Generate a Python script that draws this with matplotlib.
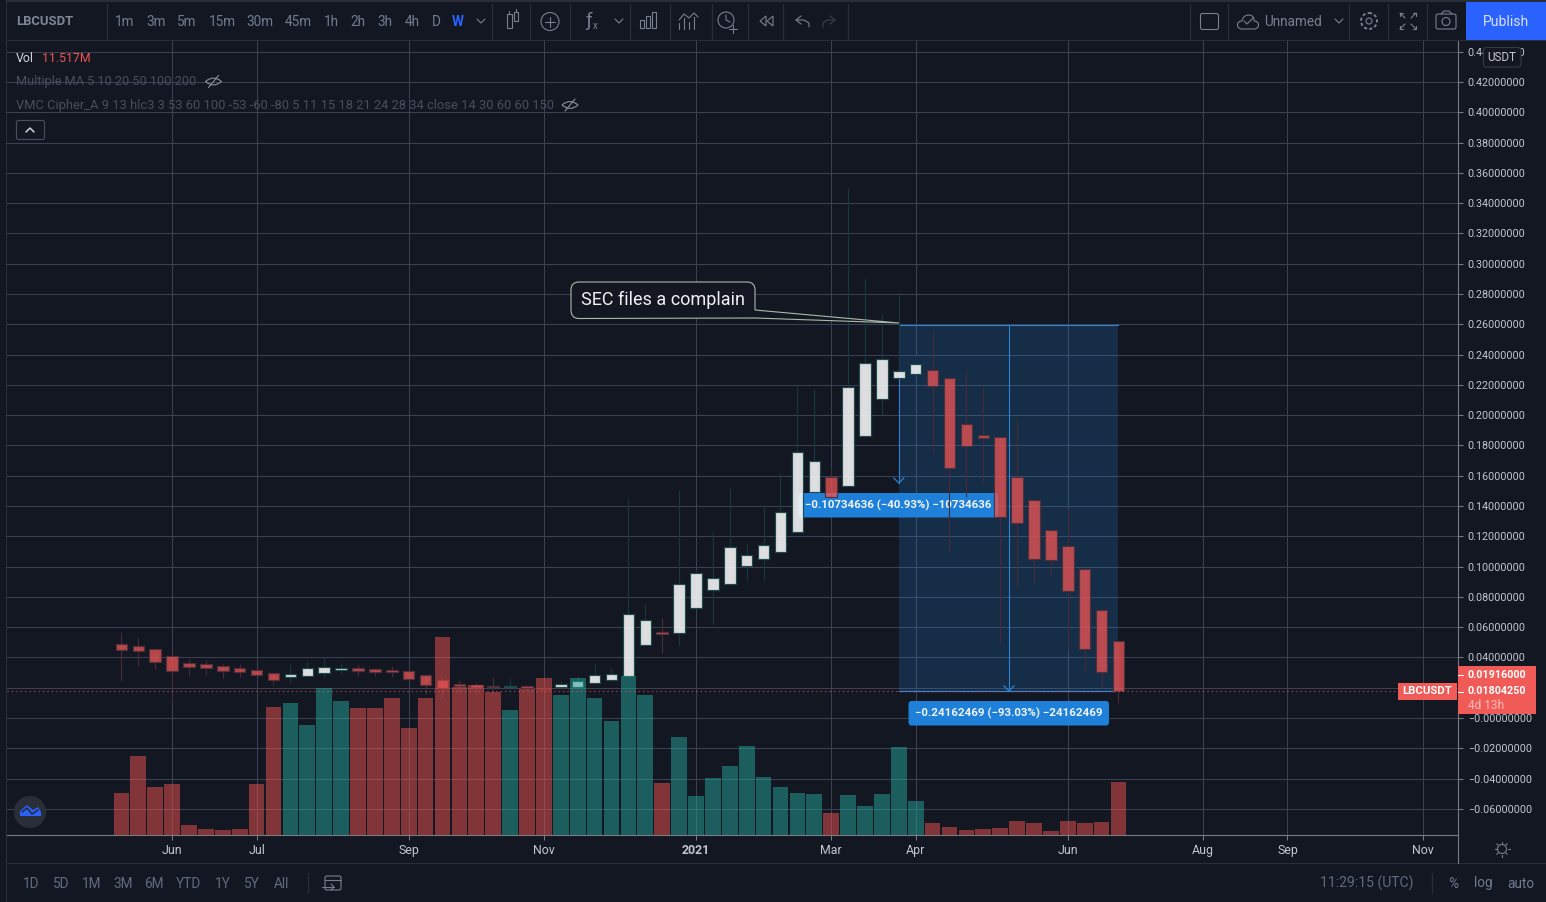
import matplotlib
matplotlib.use("Agg")
import matplotlib.pyplot as plt
from matplotlib.patches import FancyBboxPatch, Rectangle, Circle, Polygon, PathPatch
from matplotlib.path import Path
from matplotlib.lines import Line2D
from matplotlib.transforms import Affine2D

plt.rcParams['font.family'] = ['Roboto', 'DejaVu Sans']

opens = [.0491,.0473,.0458,.0411,.0361,.0355,.0341,.0328,.0315,.0295,
         .0273,.0279,.0299,.0319,.0328,.0322,.0317,.0308,.0282,.0249,
         .0225,.0220,.0211,.0205,.0209,.0200,.0203,.0207,.0229,.0253,
         .0277,.0480,.0568,.0559,.0724,.0843,.0883,.1004,.1050,.1096,
         .1226,.1494,.1594,.1532,.1860,.2105,.2245,.2270,.2300,.2247,
         .1943,.1871,.1858,.1594,.1442,.1243,.1138,.0986,.0715,.0510]
closes = [.0451,.0444,.0368,.0308,.0339,.0332,.0308,.0302,.0282,.0249,
          .0289,.0328,.0335,.0330,.0312,.0306,.0306,.0256,.0216,.0200,
          .0211,.0203,.0205,.0211,.0196,.0191,.0223,.0242,.0282,.0289,
          .0685,.0645,.0553,.0887,.0960,.0922,.1130,.1076,.1142,.1358,
          .1759,.1699,.1459,.2188,.2346,.2373,.2293,.2340,.2190,.1649,
          .1798,.1847,.1325,.1286,.1048,.1041,.0837,.0454,.0302,.0180425]
highs = [.0568,.0530,.0458,.0420,.0388,.0383,.0357,.0357,.0315,.0295,
         .0350,.0370,.0401,.0363,.0348,.0328,.0343,.0308,.0282,.0271,
         .0251,.0231,.0271,.0264,.0218,.0200,.0244,.0277,.0357,.0330,
         .1453,.0753,.0658,.1506,.0980,.1230,.1519,.1150,.1407,.1618,
         .2194,.2173,.1653,.3498,.2899,.2668,.2793,.2400,.2556,.2247,
         .2298,.2186,.1858,.1979,.1442,.1243,.1385,.0986,.0715,.0510]
lows = [.0246,.0345,.0324,.0114,.0284,.0284,.0264,.0271,.0282,.0218,
        .0231,.0279,.0271,.0291,.0277,.0277,.0271,.0256,.0158,.0132,
        .0172,.0158,.0172,.0185,.0185,.0191,.0203,.0207,.0229,.0253,
        .0277,.0480,.0431,.0475,.0724,.0621,.0883,.0905,.0905,.1096,
        .1226,.1494,.1459,.1532,.1860,.2001,.2245,.2270,.1759,.1098,
        .1461,.1560,.0497,.0856,.0889,.0944,.0449,.0317,.0198,.0097]
volumes = [9.19,17.23,10.5,11.15,2.24,1.37,1.15,1.37,11.15,27.88,
           28.75,23.97,32.0,29.18,27.66,27.66,29.84,23.32,29.84,43.09,
           32.16,32.6,31.07,27.16,31.73,34.12,30.42,34.12,29.77,24.77,
           34.55,30.42,11.3,21.3,8.47,12.39,14.99,19.34,12.6,10.43,
           9.13,8.91,4.78,8.69,6.3,8.91,19.12,7.39,2.61,1.74,
           1.09,1.3,1.52,3.04,2.61,.87,3.04,2.61,2.82,11.517]
x_tick_pos = [3, 8, 17, 25, 34, 42, 47, 56, 64, 69, 77]
x_tick_labels = ['Jun','Jul','Sep','Nov','2021','Mar','Apr','Jun','Aug','Sep','Nov']
y_ticks = [.44,.42,.40,.38,.36,.34,.32,.30,.28,.26,.24,.22,.20,.18,.16,.14,.12,.10,
           .08,.06,.04,.02,0.0,-.02,-.04,-.06]
last_price = 0.0180425
range_top = 0.25966719
range_mid_end = 0.1553
range_start_i, range_end_i, range_mid_i = 46, 59, 52.5

BG = '#131722'; GRID = '#3c4052'; AXC = '#787b86'; TXT = '#b2b5be'; UI = '#787f8f'
SEP = '#2a2e39'; BLUE = '#1e80d8'; LINE = '#2b84d4'; RED = '#ef5350'

W, H = 1546, 902
fig = plt.figure(figsize=(W/100, H/100), dpi=100, facecolor=BG)
L, R, T, B = 7, 1458, 41, 835
STEP = 16.9; X0 = 121.4; Y0 = 718; K = 1514.3; VK = 0.2173
rect = [L/W, 1-B/H, (R-L)/W, (B-T)/H]
ax = fig.add_axes(rect, facecolor=BG, zorder=1)
ax.set_xlim((L-X0)/STEP, (R-X0)/STEP)
ax.set_ylim((Y0-B)/K, (Y0-T)/K)
px = Affine2D().scale(1, -1).translate(0, H)

# axes and grid
ax.set_axisbelow(True)
ax.set_yticks(y_ticks)
ax.set_yticklabels([('\u2212' if v <= 0 else '') + f'{abs(v):.8f}' for v in y_ticks])
ax.set_xticks(x_tick_pos)
ax.set_xticklabels(x_tick_labels)
ax.grid(True, color=GRID, lw=.75)
ax.tick_params(axis='y', length=3.6, width=.72, color=AXC, labelcolor='#c3c6ce', labelsize=7.75, pad=3.4)
ax.tick_params(axis='x', length=3.6, width=.72, color=AXC, labelcolor='#c3c6ce', labelsize=8.9, pad=2.6)
ax.get_xticklabels()[4].set_fontweight('bold')
for s in ['left', 'top']:
    ax.spines[s].set_visible(False)
for s in ['right', 'bottom']:
    ax.spines[s].set_color(AXC); ax.spines[s].set_linewidth(.8)

# price-range box and its lines, beneath candles
ax.add_patch(Rectangle((range_start_i, last_price), range_end_i-range_start_i, range_top-last_price,
                       fc='#2196f3', alpha=.18, ec='none', zorder=2))
ax.plot([range_start_i, range_end_i], [range_top, range_top], color=LINE, lw=.8, zorder=2.1)
ax.plot([range_start_i, range_end_i], [last_price, last_price], color=LINE, lw=.9, zorder=2.1)
ax.plot([range_mid_i, range_mid_i], [range_top, last_price], color=LINE, lw=.8, zorder=2.1)
ax.plot([range_start_i, range_start_i], [range_top, range_mid_end], color=LINE, lw=.8, zorder=2.1)
for xc, yc in [(898.8, 483), (1009, 691)]:
    ax.plot([xc-5, xc, xc+5], [yc-5, yc, yc-5], color=LINE, lw=.9, transform=px, clip_on=False, zorder=2.1)
ax.add_patch(FancyBboxPatch((798.5, 493), 199.5, 24.5, boxstyle='round,pad=0,rounding_size=3',
                            fc=BLUE, ec='none', transform=px, zorder=2.2))
ax.text(898, 505.5, '\u22120.10734636 (\u221240.93%) \u221210734636', transform=px, color='#eef3fa',
        fontsize=8.25, fontweight='bold', ha='center', va='center', zorder=2.3)

# candles
idx = list(range(len(opens)))
up = [c >= o for o, c in zip(opens, closes)]
ax.vlines(idx, lows, highs, colors=['#143a3f' if u else '#4a2b35' for u in up], lw=.8, zorder=2.5)
ax.bar(idx, [abs(c-o) for o, c in zip(opens, closes)], bottom=[min(o, c) for o, c in zip(opens, closes)],
       width=.68, color=[(1, 1, 1, .86) if u else (.95, .34, .34, .74) for u in up],
       edgecolor=['#1d4a4a' if u else '#52303b' for u in up], lw=.85, zorder=3)

# volume on its own scale
axv = ax.twinx(); axv.set_zorder(2); axv.patch.set_visible(False); axv.axis('off')
axv.set_ylim(0, (B-T)*VK)
axv.bar(idx, volumes, width=.93, color=['#26a69a' if u else RED for u in up], alpha=.5, lw=0)

# overlay in price coordinates
axo = ax.twinx(); axo.set_zorder(3); axo.patch.set_visible(False); axo.axis('off')
axo.set_ylim(ax.get_ylim())
axo.axhline(last_price, color=RED, lw=.8, ls=(0, (1, 3)), alpha=.9)
ax.yaxis.tick_right()

# UI layer in pixel coordinates
ui = fig.add_axes([0, 0, 1, 1], zorder=5); ui.patch.set_visible(False); ui.axis('off')
ui.set_xlim(0, W); ui.set_ylim(H, 0)
def ln(xs, ys, c=UI, lw=.8, **k):
    ui.add_line(Line2D(xs, ys, color=c, lw=lw, solid_capstyle='round', **k))
def rc(x, y, w, h, fc, ec='none', lw=.8, z=1):
    ui.add_patch(Rectangle((x, y), w, h, fc=fc, ec=ec, lw=lw, zorder=z))
def rr(x, y, w, h, r, fc, ec='none', lw=.8, z=2):
    ui.add_patch(FancyBboxPatch((x, y), w, h, boxstyle=f'round,pad=0,rounding_size={r}', fc=fc, ec=ec, lw=lw, zorder=z))
def tx(x, y, s, c=UI, fs=9.4, ha='center', w='normal', z=3):
    ui.text(x, y, s, color=c, fontsize=fs, ha=ha, va='center', fontweight=w, zorder=z)

# frames
rc(0, 0, W, 2, '#2a2e39'); rc(0, 40, W, 1, SEP); rc(0, 0, 7, H, BG); rc(6, 0, 1, H, SEP)
rc(7, 863, W, 1, SEP); ln([1458, 1458], [835, 863], AXC, .8)
for xs in [107, 492, 530, 570, 630, 670, 712, 748, 783, 848, 1190, 1228, 1349, 1388, 1427]:
    ln([xs, xs], [4, 40], SEP, .9)

# top toolbar
tx(16, 21.5, 'LBCUSDT', '#7f8796', 9.4, 'left', 'bold')
for xc, s in [(125,'1m'),(156,'3m'),(187,'5m'),(222,'15m'),(260,'30m'),(298,'45m'),(331,'1h'),(358,'2h'),(385,'3h'),(412,'4h'),(436,'D')]:
    tx(xc, 21.5, s, '#6f7c90', 9.8)
tx(458, 21.5, 'W', '#2962ff', 9.8, w='bold')
ln([477, 481, 485], [19, 23, 19])
rc(506.5, 14, 5, 14, 'none', UI); rc(514, 12, 4, 9, 'none', UI); ln([509, 509], [11, 14]); ln([516, 516], [9, 12])
ui.add_patch(Circle((550, 21.5), 9, fc='none', ec=UI, lw=.8)); ln([545, 555], [21.5, 21.5]); ln([550, 550], [16.5, 26.5])
tx(589, 21, '\u0192', UI, 14); tx(595, 26, 'x', UI, 7); ln([615, 619, 623], [19, 23, 19])
for xb, top in [(642, 20), (648, 16), (654, 12)]:
    rc(xb-2, top, 4, 28-top, 'none', UI)
ln([679, 684, 689, 694, 698], [20, 14, 18, 13, 17])
for xb, top in [(679, 23), (684, 18), (689, 22), (694, 17)]:
    ln([xb, xb], [top, 29])
ui.add_patch(Circle((726, 20), 8, fc='none', ec=UI, lw=.8)); ln([726, 726, 730], [15, 20, 22]); ln([733, 733], [25, 33]); ln([729, 737], [29, 29])
ui.add_patch(Polygon([[766, 16], [760, 21], [766, 26]], fc='none', ec=UI, lw=.8)); ui.add_patch(Polygon([[773, 16], [767, 21], [773, 26]], fc='none', ec=UI, lw=.8))
ln([801, 796, 801], [16, 20, 24]); ln([796, 804, 809, 809], [20, 20, 23, 27])
ln([830, 835, 830], [16, 20, 24], '#3a3f4c'); ln([835, 827, 823, 823], [20, 20, 23, 27], '#3a3f4c')
rr(1200.5, 13.5, 18, 16, 2, 'none', UI)
ui.add_patch(PathPatch(Path([(1242, 29), (1236, 29), (1236, 21), (1242, 21), (1243, 13), (1255, 13), (1254, 21), (1260, 21), (1260, 29), (1254, 29), (1242, 29)],
                            [1, 4, 4, 4, 4, 4, 4, 4, 4, 4, 2]), fc='none', ec=UI, lw=.8))
ln([1244, 1247, 1253], [21, 24, 18])
tx(1264, 21.5, 'Unnamed', UI, 9.8, 'left'); ln([1335, 1339, 1343], [19, 23, 19])
ui.add_patch(Circle((1369, 21), 3, fc='none', ec=UI, lw=.8)); ui.add_patch(Circle((1369, 21), 8, fc='none', ec=UI, lw=1.4, ls=(0, (1.6, 1.2))))
for a, b in [(1, 1), (1, -1), (-1, 1), (-1, -1)]:
    ln([1408+a*3, 1408+a*8], [21+b*3, 21+b*8])
    ln([1408+a*8, 1408+a*8, 1408+a*5], [21+b*5, 21+b*8, 21+b*8])
rr(1436, 14, 20, 15, 2, 'none', UI); ui.add_patch(Circle((1446, 21.5), 4, fc='none', ec=UI, lw=.8)); ln([1441, 1444, 1449, 1452], [14, 11, 11, 14])
rc(1466, 2, 80, 38, '#2962ff'); tx(1506, 21.5, 'Publish', '#d8e0f5', 10.1)

# legend rows
tx(16, 58, 'Vol', '#d1d4dc', 8.9, 'left'); tx(42, 58, '11.517M', RED, 8.9, 'left')
tx(16, 82, 'Multiple MA 5 10 20 50 100 200', '#4a4e5c', 9.2, 'left')
tx(16, 106, 'VMC Cipher_A 9 13 hlc3 3 53 60 100 -53 -60 -80 5 11 15 18 21 24 28 34 close 14 30 60 60 150', '#4a4e5c', 9.25, 'left')
for xc, yc in [(213.5, 81.5), (570, 105)]:
    ui.add_patch(PathPatch(Path([(xc-8, yc), (xc, yc-7), (xc+8, yc), (xc, yc+7), (xc-8, yc)], [1, 3, 2, 3, 2]), fc='none', ec='#8d919d', lw=.8))
    ln([xc-5, xc+5], [yc+6, yc-6], '#8d919d', .8)
rr(16.5, 120.5, 28, 19, 2, BG, '#4a4e5c')
ln([26, 30, 34], [132, 128, 132], '#d1d4dc', 1.1)

# callout
path = Path([(579, 282), (747, 282), (755, 282), (755, 290), (755, 310), (899, 323), (755, 318), (579, 318.5), (571, 318.5), (571, 310), (571, 290), (571, 282), (579, 282)],
            [1, 2, 3, 3, 2, 2, 2, 2, 3, 3, 2, 3, 3])
ui.add_patch(PathPatch(path, fc=BG, ec='#a8baa8', lw=.8, zorder=2))
tx(663, 299.5, 'SEC files a complain', '#eef0f2', 13)

# lower range label
rr(908.5, 701, 200.5, 24.5, 3, BLUE)
tx(1008.5, 713.5, '\u22120.24162469 (\u221293.03%) \u221224162469', '#eef3fa', 8.25, w='bold')

# price scale widgets
rr(1483.5, 47.5, 37.5, 19.5, 3, BG, '#363a45')
tx(1502, 57.5, 'USDT', '#c3c6ce', 8.4)
rc(1458, 666, 78, 48, '#f05a57', z=2)
tx(1468, 674.5, '0.01916000', '#ffffff', 7.75, 'left', w='bold')
tx(1468, 691.5, '0.01804250', '#ffffff', 7.75, 'left', w='bold')
tx(1468, 705.5, '4d 13h', '#f9bdb9', 8.6, 'left')
rc(1398, 683, 59, 17, '#f05a57', z=2); tx(1427, 691.5, 'LBCUSDT', '#ffffff', 8.2, w='bold')
ln([1458, 1463], [691.5, 691.5], '#ffffff', .8, zorder=4)
ln([1458, 1463], [674.5, 674.5], '#ffffff', .8, zorder=4)

# logo
ui.add_patch(Circle((30, 812), 16, fc='#2a2e39', ec='none', zorder=2))
ui.add_patch(Polygon([[20, 816], [20, 811], [27, 805], [33, 810], [38, 807], [41, 812], [41, 816]], fc='#2962ff', ec='none', zorder=3))
ln([22, 27, 32, 38], [812, 808, 814, 810], '#2a2e39', 1.2, zorder=4)

# bottom bar
for xc, s in [(31,'1D'),(61,'5D'),(92,'1M'),(123,'3M'),(154,'6M'),(188,'YTD'),(223,'1Y'),(252,'5Y'),(282,'All')]:
    tx(xc, 883.5, s, '#5f6b80', 9.8)
ln([307.5, 307.5], [873, 893], SEP, .9)
rr(325, 876, 16, 14, 2, 'none', UI); ln([325, 341], [880, 880]); ln([322, 334], [887, 887]); ln([331, 334, 331], [884, 887, 890])
tx(1413, 883.5, '11:29:15 (UTC)', '#5f6b80', 10.1, 'right')
ln([1432, 1432], [873, 893], SEP, .9)
tx(1453, 883.5, '%', '#6f7c90', 9.8); tx(1483, 883.5, 'log', '#6f7c90', 9.8); tx(1521, 883.5, 'auto', '#6f7c90', 9.8)
ui.add_patch(Circle((1502, 849), 4.5, fc='none', ec=UI, lw=.8))
for a, b in [(0, 1), (0, -1), (1, 0), (-1, 0), (.7, .7), (.7, -.7), (-.7, .7), (-.7, -.7)]:
    ln([1502+a*5.5, 1502+a*7.5], [849+b*5.5, 849+b*7.5])

fig.savefig('out.png', dpi=100, facecolor=BG)
